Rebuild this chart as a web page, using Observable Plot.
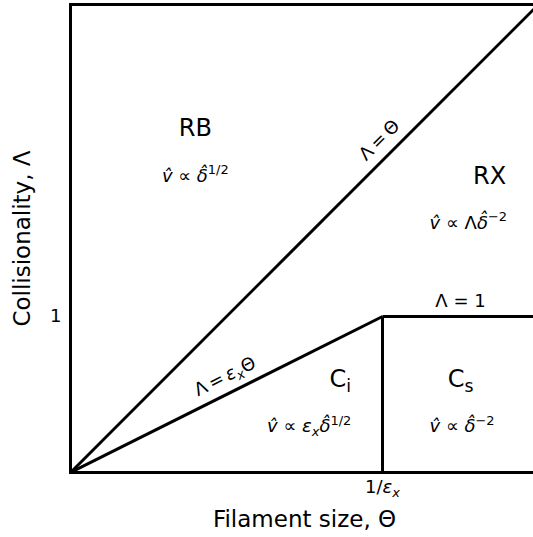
<!DOCTYPE html>
<html>
<head>
<meta charset="utf-8">
<script src="https://cdn.jsdelivr.net/npm/d3@7"></script>
<script src="https://cdn.jsdelivr.net/npm/@observablehq/plot@0.6"></script>
<style>
  body { margin: 0; background: #fff; }
  svg text { font-family: "DejaVu Sans", sans-serif; }
</style>
</head>
<body>
<div id="chart"></div>
<script>
// Regime diagram: collisionality Λ against filament size Θ.
const epsX = 0.5;          // ε_x, so the corner sits at Θ = 1/ε_x
const thetaMax = 3;        // extent of both axes

// Regime boundaries (segments)
const boundaryTheta1  = [0, 0, 1 / epsX, 1 / epsX];
const boundaryLambda1 = [0, 0, 0, 1];
const boundaryTheta2  = [thetaMax, 1 / epsX, 1 / epsX, thetaMax];
const boundaryLambda2 = [thetaMax, 1, 1, 1];

// Boundary labels
const lineLabels = ["Λ\u2009=\u2009Θ", "Λ\u2009=\u2009*ε*_{*x*}Θ", "Λ = 1"];
const lineLabelTheta  = [1.98, 0.99, 2.5];
const lineLabelLambda = [2.13, 0.615, 1.10];
const lineLabelAngle  = [-45, -Math.atan(epsX) * 180 / Math.PI, 0];

// Regime names and velocity scalings
const regionNames   = ["RB", "RX", "C_{i}", "C_{s}"];
const regionTheta   = [0.80, 2.686, 1.73, 2.50];
const regionLambda  = [2.205, 1.90, 0.60, 0.60];
const scalingLaws   = [
  "*v̂* ∝ *δ̂*^{1/2}",
  "*v̂* ∝ Λ*δ̂*^{−2}",
  "*v̂* ∝ *ε*_{*x*}*δ̂*^{1/2}",
  "*v̂* ∝ *δ̂*^{−2}"
];
const scalingTheta  = [0.80, 2.55, 1.53, 2.51];
const scalingLambda = [1.90, 1.60, 0.295, 0.295];

// Axis ticks
const xTicks = [1 / epsX];
const xTickLabels = ["1/*ε*_{*x*}"];
const yTicks = [1];
const yTickLabels = ["1"];

const idx = a => a.map((_, i) => i);

const plot = Plot.plot({
  width: 533,
  height: 537,
  marginLeft: 70,
  marginRight: -5,
  marginTop: 4,
  marginBottom: 65,
  style: { fontFamily: "DejaVu Sans", background: "#fff", color: "#000" },
  x: { domain: [0, thetaMax] },
  y: { domain: [0, thetaMax] },
  marks: [
    Plot.frame({ stroke: "#000", strokeWidth: 3 }),
    Plot.link(idx(boundaryTheta1), {
      x1: i => boundaryTheta1[i], y1: i => boundaryLambda1[i],
      x2: i => boundaryTheta2[i], y2: i => boundaryLambda2[i],
      stroke: "#000", strokeWidth: 3, clip: true
    }),
    Plot.axisX(xTicks, {
      tickSize: 0, tickPadding: 8, fontSize: 18,
      tickFormat: (d, i) => xTickLabels[i], label: null
    }),
    Plot.axisY(yTicks, {
      tickSize: 0, tickPadding: 9, fontSize: 18,
      tickFormat: (d, i) => yTickLabels[i], label: null
    }),
    Plot.text(["Filament size, Θ"], {
      frameAnchor: "bottom", lineAnchor: "middle", textAnchor: "middle",
      dy: 47, fontSize: 23, fill: "#000"
    }),
    Plot.text(["Collisionality, Λ"], {
      frameAnchor: "left", lineAnchor: "middle", textAnchor: "middle",
      dx: -48, rotate: -90, fontSize: 23, fill: "#000"
    }),
    ...idx(lineLabels).map(i => Plot.text([lineLabels[i]], {
      x: () => lineLabelTheta[i], y: () => lineLabelLambda[i],
      rotate: lineLabelAngle[i], fontSize: 18, fill: "#000"
    })),
    Plot.text(idx(regionNames), {
      x: i => regionTheta[i], y: i => regionLambda[i],
      text: i => regionNames[i], fontSize: 24, fill: "#000"
    }),
    Plot.text(idx(scalingLaws), {
      x: i => scalingTheta[i], y: i => scalingLambda[i],
      text: i => scalingLaws[i], fontSize: 18, fill: "#000"
    })
  ]
});

// Turn the light markup (*italic*, ^{super}, _{sub}) into tspans.
function richText(el) {
  const src = el.textContent;
  if (!/[\^_*]/.test(src)) return;
  const size = parseFloat(getComputedStyle(el).fontSize) || 16;
  while (el.firstChild) el.removeChild(el.firstChild);
  const tokens = src.match(/\^\{[^}]*\}|_\{[^}]*\}|\*[^*]*\*|[^^_*]+/g) || [];
  let shift = 0;
  for (const tok of tokens) {
    let text = tok, target = 0, scale = 1, italic = false;
    if (tok.startsWith("^{")) { text = tok.slice(2, -1); target = -0.42 * size; scale = 0.72; }
    else if (tok.startsWith("_{")) { text = tok.slice(2, -1); target = 0.22 * size; scale = 0.72; }
    if (text.startsWith("*") && text.endsWith("*")) { text = text.slice(1, -1); italic = true; }
    const t = document.createElementNS("http://www.w3.org/2000/svg", "tspan");
    t.textContent = text;
    if (target !== shift) t.setAttribute("dy", (target - shift).toFixed(2));
    shift = target;
    if (scale !== 1) t.setAttribute("font-size", (size * scale).toFixed(2));
    if (italic) t.setAttribute("font-style", "italic");
    el.appendChild(t);
  }
}

document.getElementById("chart").appendChild(plot);
plot.querySelectorAll("text").forEach(richText);
</script>
</body>
</html>
